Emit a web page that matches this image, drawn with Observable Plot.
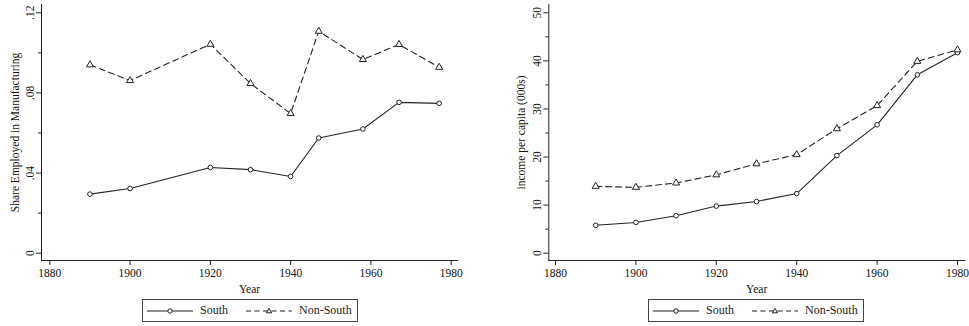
<!DOCTYPE html>
<html><head><meta charset="utf-8">
<script src="https://cdn.jsdelivr.net/npm/d3@7"></script>
<script src="https://cdn.jsdelivr.net/npm/@observablehq/plot@0.6"></script>
<style>
body{margin:0;background:#fff;font-family:"Liberation Serif","Times New Roman",serif;}
#wrap{display:flex;width:969px;height:326px;}
.cell{position:relative;height:326px;}
.cell svg.plot{display:block;}
.legend{position:absolute;top:299px;height:21px;border:1px solid #444;box-sizing:content-box;display:flex;align-items:center;font-size:12px;color:#222;background:#fff;}
.legend .item{display:flex;align-items:center;}
.legend svg{display:block;}
</style>
</head><body>
<div id="wrap"></div>
<script>
// ---- data ----
const seriesNames = ["South", "Non-South"];
const xTicks = [1880, 1900, 1920, 1940, 1960, 1980];

const shareYears = [1890, 1900, 1920, 1930, 1940, 1947, 1958, 1967, 1977];
const shareSouth = [0.0295, 0.0323, 0.0428, 0.0417, 0.0383, 0.0575, 0.0620, 0.0753, 0.0748];
const shareNonSouth = [0.0940, 0.0862, 0.1043, 0.0847, 0.0697, 0.1108, 0.0967, 0.1042, 0.0928];
const shareTicks = [0, 0.04, 0.08, 0.12];
const shareMinorTicks = [0.02, 0.06, 0.10];

const incomeYears = [1890, 1900, 1910, 1920, 1930, 1940, 1950, 1960, 1970, 1980];
const incomeSouth = [5.8, 6.4, 7.8, 9.8, 10.75, 12.4, 20.3, 26.7, 37.1, 41.7];
const incomeNonSouth = [13.9, 13.7, 14.6, 16.3, 18.6, 20.5, 25.9, 30.7, 39.9, 42.3];
const incomeTicks = [0, 10, 20, 30, 40, 50];
const incomeMinorTicks = [5, 15, 25, 35, 45];

const ink = "#222";
const fontFamily = '"Liberation Serif","Times New Roman",serif';

function rows(years, a, b) {
  const out = [];
  years.forEach((yr, i) => {
    out.push({year: yr, value: a[i], series: seriesNames[0]});
  });
  years.forEach((yr, i) => {
    out.push({year: yr, value: b[i], series: seriesNames[1]});
  });
  return out;
}

function makeChart(cfg) {
  const data = rows(cfg.years, cfg.south, cfg.nonSouth);
  const south = data.filter(d => d.series === seriesNames[0]);
  const non = data.filter(d => d.series === seriesNames[1]);
  return Plot.plot({
    width: cfg.width,
    height: 296,
    marginLeft: cfg.marginLeft,
    marginRight: cfg.marginRight,
    marginTop: 4,
    marginBottom: 36,
    style: {fontFamily, fontSize: "11.5px", color: "#111", background: "#fff"},
    x: {domain: [1880, 1980], insetLeft: cfg.insetLeft, insetRight: cfg.insetRight},
    y: {domain: cfg.yDomain, insetTop: 8.3, insetBottom: 7.3},
    marks: [
      Plot.frame({anchor: "left", stroke: ink, strokeWidth: 1}),
      Plot.frame({anchor: "bottom", stroke: ink, strokeWidth: 1}),
      Plot.axisX({ticks: xTicks, tickFormat: d => String(d), tickSize: 5, tickPadding: 3, stroke: ink,
                  label: "Year", labelAnchor: "center", labelArrow: "none", labelOffset: 32, fontSize: 11.5}),
      Plot.axisY({ticks: cfg.yTicks, tickFormat: cfg.fmt, tickSize: 5, tickPadding: 3, tickRotate: -90, stroke: ink,
                  label: cfg.yLabel, labelAnchor: "center", labelArrow: "none", labelOffset: cfg.labelOffset, fontSize: 11.5}),
      Plot.axisY({ticks: cfg.yMinor, tickFormat: () => "", tickSize: 3, stroke: ink, label: null}),
      Plot.line(south, {x: "year", y: "value", stroke: ink, strokeWidth: 1.1}),
      Plot.line(non, {x: "year", y: "value", stroke: ink, strokeWidth: 1.1, strokeDasharray: "6,4"}),
      Plot.dot(south, {x: "year", y: "value", symbol: "circle", r: 2.3, stroke: ink, fill: "#fff", strokeWidth: 1}),
      Plot.dot(non, {x: "year", y: "value", symbol: "triangle", r: 2.6, stroke: ink, fill: "#fff", strokeWidth: 1})
    ]
  });
}

function legend(left) {
  const div = document.createElement("div");
  div.className = "legend";
  div.style.left = left + "px";
  div.style.width = "214px";
  const sw = (dash, sym) => {
    const ns = "http://www.w3.org/2000/svg";
    const s = document.createElementNS(ns, "svg");
    s.setAttribute("width", 46); s.setAttribute("height", 10);
    const l = document.createElementNS(ns, "line");
    l.setAttribute("x1", 0); l.setAttribute("x2", 46); l.setAttribute("y1", 5); l.setAttribute("y2", 5);
    l.setAttribute("stroke", ink); l.setAttribute("stroke-width", 1.1);
    if (dash) l.setAttribute("stroke-dasharray", dash);
    s.appendChild(l);
    let m;
    if (sym === "circle") {
      m = document.createElementNS(ns, "circle");
      m.setAttribute("cx", 23); m.setAttribute("cy", 5); m.setAttribute("r", 2.2);
    } else {
      m = document.createElementNS(ns, "path");
      m.setAttribute("d", "M23,2.3 L25.6,6.8 L20.4,6.8 Z");
    }
    m.setAttribute("fill", "#fff"); m.setAttribute("stroke", ink);
    s.appendChild(m);
    return s;
  };
  const mk = (name, dash, sym, ml) => {
    const it = document.createElement("div");
    it.className = "item";
    it.style.marginLeft = ml + "px";
    it.appendChild(sw(dash, sym));
    const t = document.createElement("span");
    t.textContent = name;
    t.style.marginLeft = "7px";
    it.appendChild(t);
    return it;
  };
  div.appendChild(mk(seriesNames[0], null, "circle", 4));
  div.appendChild(mk(seriesNames[1], "5,3.5", "triangle", 18));
  return div;
}

const wrap = document.getElementById("wrap");

const c1 = document.createElement("div");
c1.className = "cell"; c1.style.width = "484px";
const p1 = makeChart({
  years: shareYears, south: shareSouth, nonSouth: shareNonSouth,
  width: 484, marginLeft: 41, marginRight: 27, insetLeft: 8.3, insetRight: 6.3,
  yDomain: [0, 0.12], yTicks: shareTicks, yMinor: shareMinorTicks,
  fmt: d => d === 0 ? "0" : d.toFixed(2).replace(/^0/, ""),
  yLabel: "Share Employed in Manufacturing", labelOffset: 31
});
p1.classList.add("plot");
c1.appendChild(p1);
c1.appendChild(legend(142));
wrap.appendChild(c1);

const c2 = document.createElement("div");
c2.className = "cell"; c2.style.width = "485px";
const p2 = makeChart({
  years: incomeYears, south: incomeSouth, nonSouth: incomeNonSouth,
  width: 485, marginLeft: 64.3, marginRight: 5, insetLeft: 6.7, insetRight: 7,
  yDomain: [0, 50], yTicks: incomeTicks, yMinor: incomeMinorTicks,
  fmt: d => String(d),
  yLabel: "income per capita (000s)", labelOffset: 32
});
p2.classList.add("plot");
c2.appendChild(p2);
c2.appendChild(legend(164));
wrap.appendChild(c2);
</script>
</body></html>
